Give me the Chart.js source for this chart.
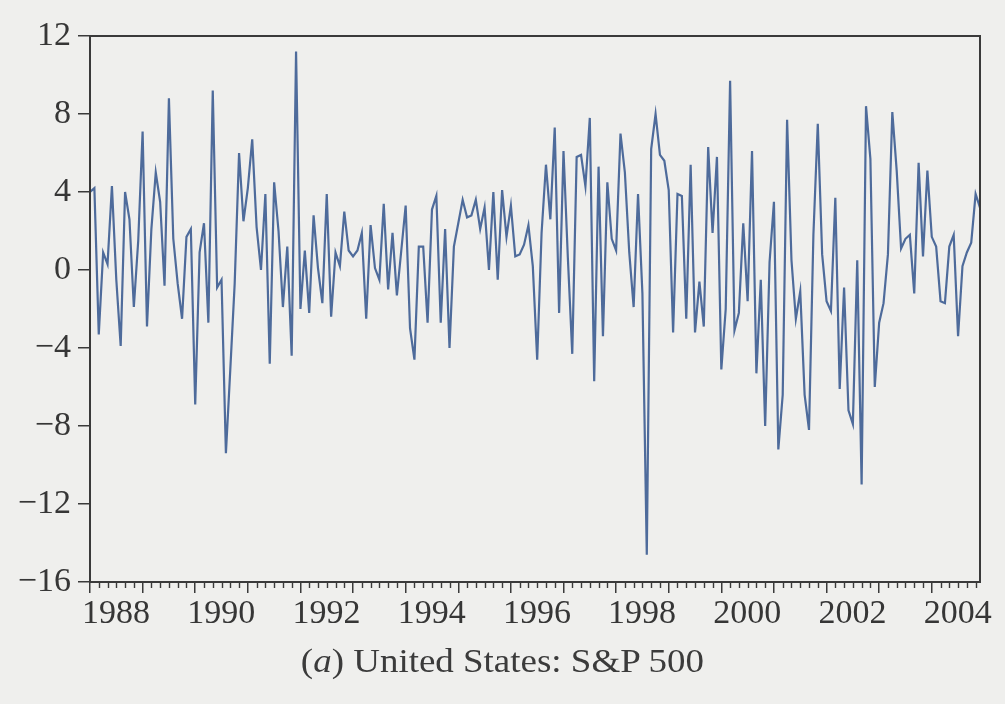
<!DOCTYPE html>
<html>
<head>
<meta charset="utf-8">
<script src="https://cdn.jsdelivr.net/npm/chart.js@4.4.0/dist/chart.umd.min.js"></script>
<style>
  html, body { margin: 0; padding: 0; background: #efefed; }
  #wrap { position: relative; width: 1005px; height: 704px; }
  #caption {
    position: absolute; left: 0; top: 643px; width: 1005px;
    text-align: center; font: 33px "Liberation Serif", serif; color: #3b3b3b;
    transform: scaleX(1.12); transform-origin: 503px 0;
  }
</style>
</head>
<body>
<div id="wrap">
  <canvas id="c" width="1005" height="704"></canvas>
  <div id="caption">(<i>a</i>) United States: S&amp;P 500</div>
</div>
<script>
// monthly returns (%), Jan 1988 .. Dec 2004
const startYear = 1988;
const returns = [
  4.0, 4.2, -3.3, 0.9, 0.3, 4.3, -0.5, -3.9, 4.0, 2.6, -1.9, 1.5,     // 1988
  7.1, -2.9, 2.1, 5.0, 3.5, -0.8, 8.8, 1.6, -0.7, -2.5, 1.7, 2.1,     // 1989
  -6.9, 0.9, 2.4, -2.7, 9.2, -0.9, -0.5, -9.4, -5.1, -0.7, 6.0, 2.5,  // 1990
  4.2, 6.7, 2.2, 0.0, 3.9, -4.8, 4.5, 2.0, -1.9, 1.2, -4.4, 11.2,     // 1991
  -2.0, 1.0, -2.2, 2.8, 0.1, -1.7, 3.9, -2.4, 0.9, 0.2, 3.0, 1.0,     // 1992
  0.7, 1.0, 1.9, -2.5, 2.3, 0.1, -0.5, 3.4, -1.0, 1.9, -1.3, 1.0,     // 1993
  3.3, -3.0, -4.6, 1.2, 1.2, -2.7, 3.1, 3.8, -2.7, 2.1, -4.0, 1.2,    // 1994
  2.4, 3.6, 2.7, 2.8, 3.6, 2.1, 3.2, 0.0, 4.0, -0.5, 4.1, 1.7,        // 1995
  3.3, 0.7, 0.8, 1.3, 2.3, 0.2, -4.6, 1.9, 5.4, 2.6, 7.3, -2.2,       // 1996
  6.1, 0.6, -4.3, 5.8, 5.9, 4.3, 7.8, -5.7, 5.3, -3.4, 4.5, 1.6,      // 1997
  1.0, 7.0, 5.0, 0.9, -1.9, 3.9, -1.2, -14.6, 6.2, 8.0, 5.9, 5.6,     // 1998
  4.1, -3.2, 3.9, 3.8, -2.5, 5.4, -3.2, -0.6, -2.9, 6.3, 1.9, 5.8,    // 1999
  -5.1, -2.0, 9.7, -3.1, -2.2, 2.4, -1.6, 6.1, -5.3, -0.5, -8.0, 0.4, // 2000
  3.5, -9.2, -6.4, 7.7, 0.5, -2.5, -1.1, -6.4, -8.2, 1.8, 7.5, 0.8,   // 2001
  -1.6, -2.1, 3.7, -6.1, -0.9, -7.2, -7.9, 0.5, -11.0, 8.4, 5.7, -6.0,// 2002
  -2.7, -1.7, 0.8, 8.1, 5.1, 1.1, 1.6, 1.8, -1.2, 5.5, 0.7, 5.1,      // 2003
  1.7, 1.2, -1.6, -1.7, 1.2, 1.8, -3.4, 0.2, 0.9, 1.4, 3.9, 3.2       // 2004
];
const yearTicks = [1988, 1989, 1990, 1991, 1992, 1993, 1994, 1995, 1996,
                   1997, 1998, 1999, 2000, 2001, 2002, 2003, 2004];
const yearLabels = ['1988', '', '1990', '', '1992', '', '1994', '', '1996',
                    '', '1998', '', '2000', '', '2002', '', '2004'];
const yTicks = [12, 8, 4, 0, -4, -8, -12, -16];
const yTickLabels = ['12', '8', '4', '0', '\u22124', '\u22128', '\u221212', '\u221216'];

const ink = '#363636';
const serif = { family: '"Liberation Serif", serif', size: 34 };

const points = returns.map((v, i) => ({ x: startYear + i / 12, y: v }));

// frame round the plot + bimonthly minor ticks on the date axis
const framePlugin = {
  id: 'frame',
  afterDraw(chart) {
    const { ctx, chartArea: a, scales } = chart;
    ctx.save();
    ctx.strokeStyle = '#3a3a3a';
    ctx.lineWidth = 2;
    ctx.strokeRect(a.left, a.top, a.right - a.left, a.bottom - a.top);
    ctx.lineWidth = 1.4;
    ctx.beginPath();
    for (let i = 2; i < returns.length; i += 2) {
      if (i % 12 === 0) continue;
      const x = Math.round(scales.x.getPixelForValue(startYear + i / 12)) + 0.5;
      ctx.moveTo(x, a.bottom);
      ctx.lineTo(x, a.bottom + 6);
    }
    ctx.stroke();
    ctx.restore();
  }
};

new Chart(document.getElementById('c'), {
  type: 'line',
  data: {
    datasets: [{
      data: points,
      borderColor: '#4e6b9b',
      borderWidth: 2.2,
      pointRadius: 0,
      tension: 0,
      fill: false
    }]
  },
  options: {
    responsive: false,
    animation: false,
    layout: { padding: { top: 36, right: 25, left: 0, bottom: 0 } },
    plugins: { legend: { display: false }, tooltip: { enabled: false } },
    scales: {
      x: {
        type: 'linear',
        min: startYear,
        max: startYear + (returns.length - 1) / 12,
        afterBuildTicks: s => { s.ticks = yearTicks.map(v => ({ value: v })); },
        afterFit: s => { s.height = 122; },
        grid: { drawOnChartArea: false, drawTicks: true, tickLength: 11, color: '#3a3a3a', lineWidth: 1.5 },
        border: { display: true, color: '#3a3a3a', width: 2 },
        ticks: {
          autoSkip: false,
          maxRotation: 0,
          labelOffset: 26,
          padding: 1,
          color: ink,
          font: serif,
          callback: (v) => yearLabels[yearTicks.indexOf(v)]
        }
      },
      y: {
        min: -16,
        max: 12,
        afterBuildTicks: s => { s.ticks = yTicks.map(v => ({ value: v })); },
        afterFit: s => { s.width = 90; },
        grid: { drawOnChartArea: false, drawTicks: true, tickLength: 12, color: '#3a3a3a', lineWidth: 1.5 },
        border: { display: true, color: '#3a3a3a', width: 2 },
        ticks: {
          padding: 7,
          color: ink,
          font: serif,
          callback: (v) => yTickLabels[yTicks.indexOf(v)]
        }
      }
    }
  },
  plugins: [framePlugin]
});
</script>
</body>
</html>
